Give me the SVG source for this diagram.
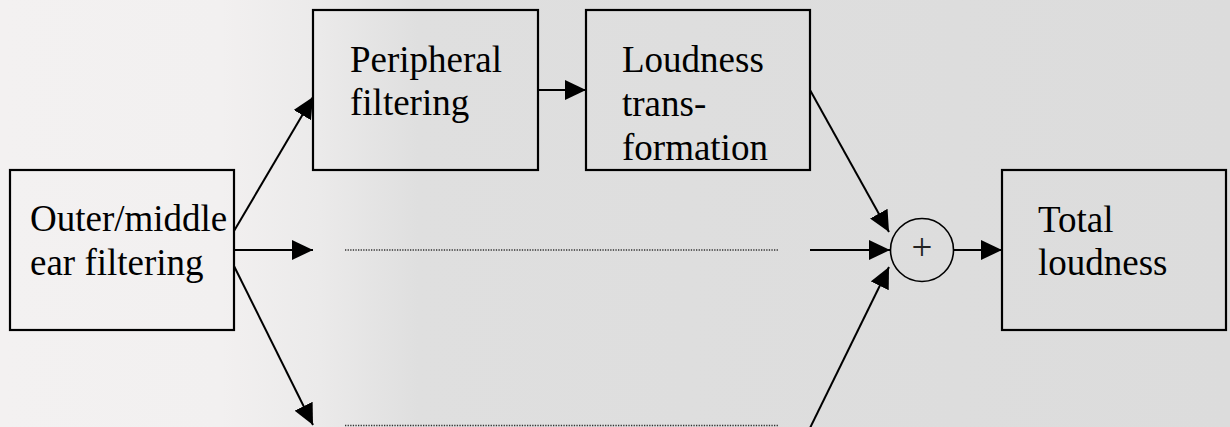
<svg xmlns="http://www.w3.org/2000/svg" width="1230" height="427" viewBox="0 0 1230 427">
<defs>
<linearGradient id="bg" x1="0" y1="0" x2="1230" y2="0" gradientUnits="userSpaceOnUse">
<stop offset="0" stop-color="#f3f1f1"/>
<stop offset="0.18" stop-color="#f2f0f0"/>
<stop offset="0.26" stop-color="#ebeaea"/>
<stop offset="0.34" stop-color="#dfdfdf"/>
<stop offset="1" stop-color="#dcdcdc"/>
</linearGradient>
<marker id="ah" markerUnits="userSpaceOnUse" markerWidth="22" markerHeight="20" refX="21" refY="10" orient="auto">
<path d="M0,0 L21,10 L0,20 z" fill="#000"/>
</marker>
<style>
.box{fill:none;stroke:#000;stroke-width:2.2}
.lbl{font-family:"Liberation Serif","Times New Roman",serif;font-size:37px;fill:#000}
.arr{stroke:#000;stroke-width:2;fill:none;marker-end:url(#ah)}
.dot{stroke:#333;stroke-width:1.5;stroke-dasharray:1.3 1.3;fill:none}
</style>
</defs>
<rect x="0" y="0" width="1230" height="427" fill="url(#bg)"/>
<g id="outer">
<rect class="box" x="10" y="170" width="224" height="160"/>
<text class="lbl" x="30" y="231">Outer/middle</text>
<text class="lbl" x="30" y="275">ear filtering</text>
</g>
<g id="peripheral">
<rect class="box" x="313" y="10" width="225" height="160"/>
<text class="lbl" x="350" y="72">Peripheral</text>
<text class="lbl" x="350" y="115">filtering</text>
</g>
<g id="loudness">
<rect class="box" x="586" y="10" width="224" height="160"/>
<text class="lbl" x="622" y="72">Loudness</text>
<text class="lbl" x="622" y="116">trans-</text>
<text class="lbl" x="622" y="160">formation</text>
</g>
<g id="sum">
<circle cx="922" cy="250" r="31.5" fill="none" stroke="#000" stroke-width="1.6"/>
<text x="922" y="260" text-anchor="middle" font-family="Liberation Serif,serif" font-size="37" fill="#222">+</text>
</g>
<g id="total">
<rect class="box" x="1002" y="170" width="224" height="160"/>
<text class="lbl" x="1038" y="232">Total</text>
<text class="lbl" x="1038" y="275">loudness</text>
</g>
<g id="connectors">
<line class="arr" x1="234" y1="231" x2="313" y2="97"/>
<line class="arr" x1="234" y1="250" x2="313" y2="250"/>
<line class="arr" x1="234" y1="266" x2="313" y2="425"/>
<line class="arr" x1="538" y1="90" x2="586" y2="90"/>
<line class="dot" x1="345" y1="250" x2="778" y2="250"/>
<line class="dot" x1="345" y1="425.5" x2="778" y2="425.5"/>
<line class="arr" x1="810" y1="90" x2="889" y2="232"/>
<line class="arr" x1="810" y1="250" x2="890" y2="250"/>
<line class="arr" x1="810" y1="428" x2="889" y2="267"/>
<line class="arr" x1="954" y1="250" x2="1002" y2="250"/>
</g>
</svg>
